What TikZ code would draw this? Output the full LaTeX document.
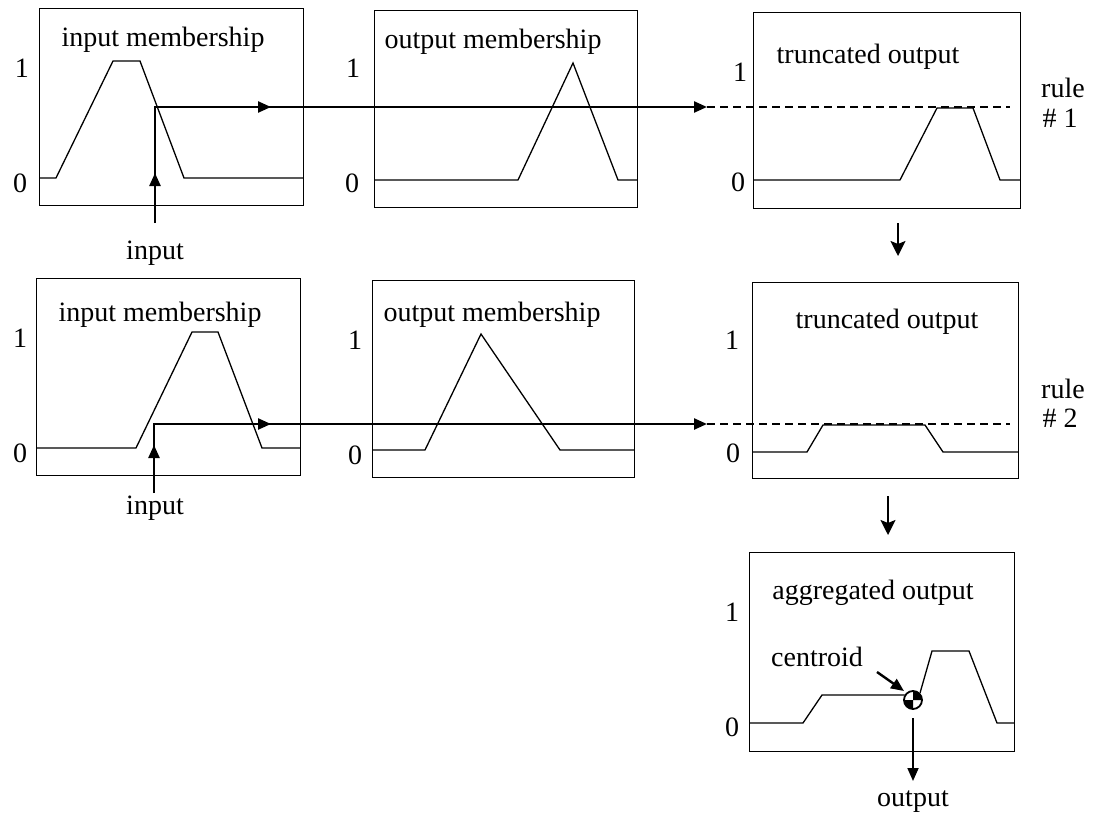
\documentclass[tikz,border=0pt]{standalone}
\usepackage{fontspec}
\setmainfont{Liberation Serif}
\usetikzlibrary{arrows.meta,decorations.markings}
\begin{document}
\begin{tikzpicture}[x=1pt,y=-1pt,
  box/.style={draw,line width=1.3pt,anchor=north west,inner sep=0pt},
  curve/.style={line width=1.3pt,line join=miter},
  lbl/.style={inner sep=0pt,font=\fontsize{28}{30}\selectfont},
  flow/.style={line width=2.4pt},
  tri/.style={-{Triangle[length=13pt,width=11pt]}},
  cut/.style={line width=1.8pt,dash pattern=on 8pt off 5pt},
  down/.style={line width=2pt,-{Stealth[length=15pt,width=15pt,inset=3pt]}}]
\useasboundingbox (0,0) rectangle (1096,819);
% boxes
\node[box,minimum width=264pt,minimum height=197pt] (b1) at (39,8) {};
\node[box,minimum width=263pt,minimum height=197pt] (b2) at (374,10) {};
\node[box,minimum width=267pt,minimum height=196pt] (b3) at (753,12) {};
\node[box,minimum width=264pt,minimum height=197pt] (b4) at (36,278) {};
\node[box,minimum width=262pt,minimum height=197pt] (b5) at (372,280) {};
\node[box,minimum width=266pt,minimum height=196pt] (b6) at (752,282) {};
\node[box,minimum width=265pt,minimum height=199pt] (b7) at (749,552) {};
% titles
\node[lbl] (t1) at (163,40) {input membership};
\node[lbl] (t2) at (493,42) {output membership};
\node[lbl] (t3) at (868,57) {truncated output};
\node[lbl] (t4) at (160,315) {input membership};
\node[lbl] (t5) at (492,315) {output membership};
\node[lbl] (t6) at (887,322) {truncated output};
\node[lbl] (t7) at (873,593) {aggregated output};
% axis labels
\node[lbl] (o1) at (22,68) {1};   \node[lbl] (z1) at (20,183) {0};
\node[lbl] (o2) at (353,68) {1};  \node[lbl] (z2) at (352,183) {0};
\node[lbl] (o3) at (740,72) {1};  \node[lbl] (z3) at (738,182) {0};
\node[lbl] (o4) at (20,338) {1};  \node[lbl] (z4) at (20,453) {0};
\node[lbl] (o5) at (355,340) {1}; \node[lbl] (z5) at (355,455) {0};
\node[lbl] (o6) at (732,340) {1}; \node[lbl] (z6) at (733,453) {0};
\node[lbl] (o7) at (732,612) {1}; \node[lbl] (z7) at (732,727) {0};
% rule labels
\node[lbl] (r1) at (1063,88) {rule};
\node[lbl] (n1) at (1060,118) {\# 1};
\node[lbl] (r2) at (1063,389) {rule};
\node[lbl] (n2) at (1060,418) {\# 2};
% membership curves
\draw[curve] (39,178) -- (56,178) -- (113,61) -- (140,61) -- (184,178) -- (303,178);
\draw[curve] (374,180) -- (518,180) -- (573,63) -- (618,180) -- (637,180);
\draw[curve] (753,180) -- (900,180) -- (937,108) -- (973,108) -- (1000,180) -- (1020,180);
\draw[curve] (36,448) -- (136,448) -- (192,332) -- (218,332) -- (262,448) -- (300,448);
\draw[curve] (372,450) -- (425,450) -- (481,334) -- (560,450) -- (634,450);
\draw[curve] (752,452) -- (807,452) -- (823,425) -- (925,425) -- (943,452) -- (1018,452);
\draw[curve] (749,723) -- (803,723) -- (822,695) -- (905,695);
\draw[curve] (920,693) -- (932,651) -- (969,651) -- (997,723) -- (1014,723);
% input labels
\node[lbl] (in1) at (155,253) {input};
\node[lbl] (in2) at (155,508) {input};
% flow row 1
\coordinate (s1) at (155,223);
\coordinate (c1) at (155,107);
\coordinate (e1) at (707,107);
\coordinate (d1) at (1010,107);
\draw[flow,tri,postaction={decorate},decoration={markings,
  mark=at position 50pt with {\arrow{Triangle[length=13pt,width=11pt]}},
  mark=at position 232pt with {\arrow{Triangle[length=13pt,width=11pt]}}}]
  (s1) -- (c1) -- (e1);
\draw[cut] (e1) -- (d1);
% flow row 2
\coordinate (s2) at (154,493);
\coordinate (c2) at (154,424);
\coordinate (e2) at (707,424);
\coordinate (d2) at (1010,424);
\draw[flow,tri,postaction={decorate},decoration={markings,
  mark=at position 48pt with {\arrow{Triangle[length=13pt,width=11pt]}},
  mark=at position 186pt with {\arrow{Triangle[length=13pt,width=11pt]}}}]
  (s2) -- (c2) -- (e2);
\draw[cut] (e2) -- (d2);
% down arrows
\coordinate (a1) at (898,223); \coordinate (a1e) at (898,256);
\coordinate (a2) at (888,496); \coordinate (a2e) at (888,535);
\draw[down] (a1) -- (a1e);
\draw[down] (a2) -- (a2e);
% centroid
\coordinate (cen) at (913,700);
\fill[white] (cen) circle (10);
\draw[line width=1.8pt] (cen) circle (9);
\fill (cen) -- ++(-9,0) arc (180:90:9) -- cycle;
\fill (cen) -- ++(9,0) arc (0:-90:9) -- cycle;
\node[lbl] (cl) at (817,657) {centroid};
\coordinate (ca) at (877,672);
\coordinate (cb) at (904,691);
\draw[flow,tri] (ca) -- (cb);
\coordinate (oa) at (913,718);
\coordinate (ob) at (913,781);
\draw[line width=1.8pt,tri] (oa) -- (ob);
\node[lbl] (out) at (913,802) {output};
\end{tikzpicture}
\end{document}
